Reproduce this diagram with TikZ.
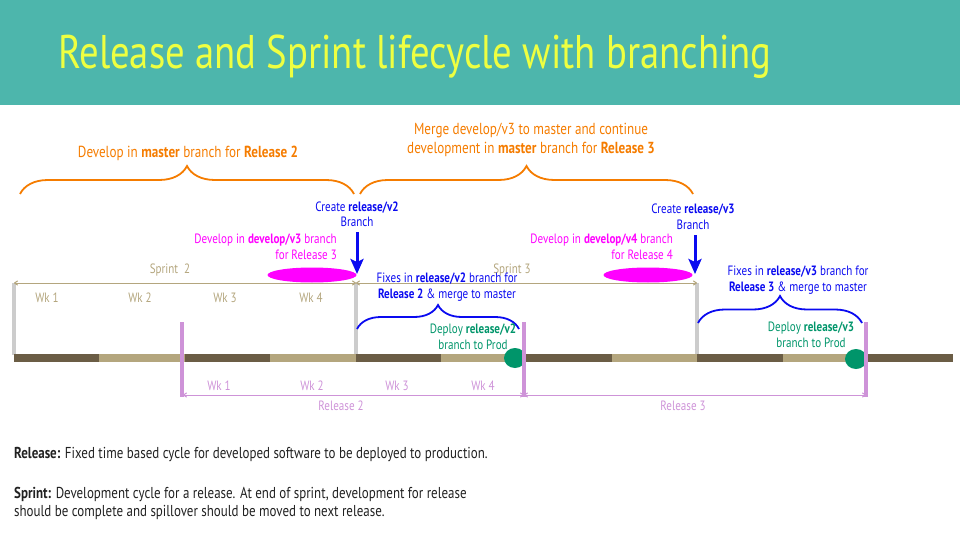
\documentclass[tikz,border=0pt]{standalone}
\usepackage{fontspec}
\setmainfont{PT Sans}[FakeStretch=0.82]
\usetikzlibrary{arrows.meta,decorations.pathreplacing,shapes.geometric}
\definecolor{band}{HTML}{4DB6AC}
\definecolor{titlecol}{HTML}{EEFF41}
\definecolor{orangecol}{HTML}{F57C00}
\definecolor{bluecol}{HTML}{0A0AF0}
\definecolor{magcol}{HTML}{FF00FF}
\definecolor{greencol}{HTML}{00956A}
\definecolor{violetcol}{HTML}{CE93D8}
\definecolor{tancol}{HTML}{B4A67E}
\definecolor{darkcol}{HTML}{6B5D45}
\definecolor{graycol}{HTML}{CCCCCC}
\definecolor{textcol}{HTML}{212121}
\begin{document}
\begin{tikzpicture}[x=1pt,y=-1pt,
  lbl/.style={font=\fontsize{13.5}{16}\selectfont, inner sep=0pt, align=center},
  orangelbl/.style={lbl, text=orangecol, font=\fontsize{16}{19}\selectfont},
  bluelbl/.style={lbl, text=bluecol},
  maglbl/.style={lbl, text=magcol, align=right},
  greenlbl/.style={lbl, text=greencol},
  tanlbl/.style={lbl, text=tancol},
  violbl/.style={lbl, text=violetcol},
  deftext/.style={font=\fontsize{15.8}{18}\selectfont, text=textcol, inner sep=0pt, align=left},
  bigbrace/.style={draw=orangecol, line width=1.8pt,
    decorate, decoration={brace, amplitude=28pt}},
  smallbrace/.style={draw=bluecol, line width=1.8pt,
    decorate, decoration={brace, amplitude=24pt}},
  branchdrop/.style={draw=bluecol, line width=3pt,
    -{Stealth[length=15pt,width=13pt,inset=3pt]}},
  sprintspan/.style={draw=tancol, line width=1pt,
    {To[length=4pt,width=5pt]}-{To[length=4pt,width=5pt]}},
  releasespan/.style={draw=violetcol, line width=1pt,
    {To[length=4pt,width=5pt]}-{To[length=4pt,width=5pt]}},
  sprintedge/.style={draw=graycol, line width=4pt},
  releaseedge/.style={draw=violetcol, line width=4pt},
  devblob/.style={ellipse, fill=magcol, inner sep=0pt, minimum width=89pt, minimum height=15pt},
  deploydot/.style={ellipse, fill=greencol, inner sep=0pt, minimum width=22pt, minimum height=20pt},
]
\useasboundingbox (0,0) rectangle (960,540);

% header band and title
\fill[band] (0,0) rectangle (960,105);
\node[anchor=base west, inner sep=0pt, text=titlecol,
      font=\fontsize{47.2}{50}\selectfont] (title) at (58,69)
      {Release and Sprint lifecycle with branching};

% sprint boundaries
\coordinate (sp0) at (14,283);
\coordinate (sp1) at (356,283);
\coordinate (sp2) at (697,283);
\foreach \x in {14,356,697}
  \draw[sprintedge] (\x,283) -- (\x,355);

% timeline of alternating weeks
\foreach \i in {0,...,10}{
  \pgfmathsetmacro{\xa}{14+85.4*\i}
  \pgfmathsetmacro{\xb}{14+85.4*(\i+1)}
  \pgfmathparse{mod(\i,2)==0 ? "darkcol" : "tancol"}
  \edef\segcol{\pgfmathresult}
  \draw[line width=8pt, draw=\segcol] (\xa,358) -- (\xb,358);
}

% deploy points
\node[deploydot] (dep2) at (515,358) {};
\node[deploydot] (dep3) at (856,359) {};

% release boundaries
\coordinate (rl0) at (183,395);
\coordinate (rl1) at (524,395);
\coordinate (rl2) at (866,395);
\foreach \x in {182,524,866}
  \draw[releaseedge] (\x,322) -- (\x,397);

% sprint spans
\draw[sprintspan] (sp0) -- (sp1);
\draw[sprintspan] (sp1) -- (sp2);
\node[tanlbl] (sprint2) at (170,270) {Sprint\ \ 2};
\node[tanlbl] (sprint3) at (512,270) {Sprint 3};
\node[tanlbl] (swk1) at (47,298) {Wk 1};
\node[tanlbl] (swk2) at (140,298) {Wk 2};
\node[tanlbl] (swk3) at (225,298) {Wk 3};
\node[tanlbl] (swk4) at (311,298) {Wk 4};

% release spans
\draw[releasespan] (rl0) -- (rl1);
\draw[releasespan] (rl1) -- (rl2);
\node[violbl] (rwk1) at (219,386) {Wk 1};
\node[violbl] (rwk2) at (312,386) {Wk 2};
\node[violbl] (rwk3) at (397,386) {Wk 3};
\node[violbl] (rwk4) at (483,386) {Wk 4};
\node[violbl] (rel2) at (341,406) {Release 2};
\node[violbl] (rel3) at (683,406) {Release 3};

% master development braces
\coordinate (ob1l) at (20,194);
\coordinate (ob1r) at (354,194);
\coordinate (ob2l) at (360,194);
\coordinate (ob2r) at (693,194);
\draw[bigbrace] (ob1l) -- (ob1r);
\draw[bigbrace] (ob2l) -- (ob2r);
\node[orangelbl] (dev2) at (188,153)
  {Develop in \textbf{master} branch for \textbf{Release 2}};
\node[orangelbl] (dev3) at (531,140)
  {Merge develop/v3 to master and continue\\
   development in \textbf{master} branch for \textbf{Release 3}};

% release branch creation
\node[bluelbl, font=\fontsize{13.5}{15}\selectfont] (cr2) at (357,214)
  {Create \textbf{release/v2}\\Branch};
\node[bluelbl, font=\fontsize{13.5}{16}\selectfont] (cr3) at (693,217)
  {Create \textbf{release/v3}\\Branch};
\coordinate (cr2top) at (357,232);
\coordinate (cr2tip) at (357,274);
\coordinate (cr3top) at (695,235);
\coordinate (cr3tip) at (695,274);
\draw[branchdrop] (cr2top) -- (cr2tip);
\draw[branchdrop] (cr3top) -- (cr3tip);

% next release development
\node[maglbl, anchor=east] (dv3) at (337,247)
  {Develop in \textbf{develop/v3} branch\\for Release 3};
\node[maglbl, anchor=east] (dv4) at (673,247)
  {Develop in \textbf{develop/v4} branch\\for Release 4};
\node[devblob] (blob3) at (312,275) {};
\node[devblob] (blob4) at (648,275) {};

% fixes on release branches
\node[bluelbl] (fix2) at (447,287)
  {Fixes in \textbf{release/v2} branch for\\\textbf{Release 2} \& merge to master};
\node[bluelbl] (fix3) at (798,280)
  {Fixes in \textbf{release/v3} branch for\\\textbf{Release 3} \& merge to master};
\coordinate (fb2l) at (357,329);
\coordinate (fb2r) at (519,329);
\coordinate (fb3l) at (698,323);
\coordinate (fb3r) at (862,323);
\draw[smallbrace] (fb2l) -- (fb2r);
\draw[smallbrace, decoration={brace, amplitude=27pt}] (fb3l) -- (fb3r);

% deployment labels
\node[greenlbl] (dl2) at (473,337)
  {Deploy \textbf{release/v2}\\branch to Prod};
\node[greenlbl] (dl3) at (811,335)
  {Deploy \textbf{release/v3}\\branch to Prod};

% definitions
\node[deftext, anchor=base west] (defrel) at (14,458)
  {\textbf{Release:} Fixed time based cycle for developed software to be deployed to production.};
\node[deftext, anchor=base west] (defspr) at (14,498)
  {\textbf{Sprint:} Development cycle for a release. At end of sprint, development for release};
\node[deftext, anchor=base west] (defspr2) at (14,516)
  {should be complete and spillover should be moved to next release.};
\end{tikzpicture}
\end{document}
